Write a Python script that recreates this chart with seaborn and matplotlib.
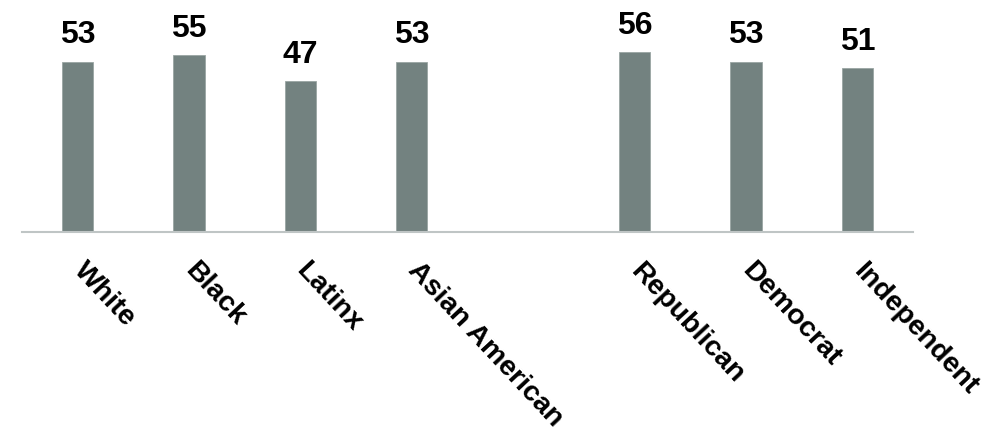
import matplotlib
matplotlib.use("Agg")
import matplotlib.pyplot as plt
import seaborn as sns
import pandas as pd

# Share of respondents by group (race/ethnicity, then party)
groups = ["White", "Black", "Latinx", "Asian American",
          "Republican", "Democrat", "Independent"]
values = [53, 55, 47, 53, 56, 53, 51]

# an empty slot separates the two sets of groups
order = ["White", "Black", "Latinx", "Asian American", " ",
         "Republican", "Democrat", "Independent"]

df = pd.DataFrame({"group": groups, "value": values})

sns.set_theme(style="white")
plt.rcParams["font.family"] = ["Liberation Sans", "DejaVu Sans"]

fig = plt.figure(figsize=(10.04, 4.32), dpi=100)
ax = fig.add_axes([22 / 1004, 1 - 232 / 432, 891 / 1004, 231.5 / 432])

bar_color = "#738280"
sns.barplot(data=df, x="group", y="value", order=order, color=bar_color,
            width=0.28, saturation=1, edgecolor="#9aa5a3", linewidth=0.6,
            ax=ax)

ax.set_xlim(-0.5, 7.5)
ax.set_ylim(0, 72)

for cont in ax.containers:
    ax.bar_label(cont, fmt="%d", padding=8, fontsize=23, fontweight="bold",
                 color="black")

ax.set_xlabel("")
ax.set_ylabel("")
ax.set_yticks([])
for side in ["left", "right", "top"]:
    ax.spines[side].set_visible(False)
ax.spines["bottom"].set_color("#bfc5c5")
ax.spines["bottom"].set_linewidth(1.5)

ax.tick_params(axis="x", length=0, pad=25)
for lbl in ax.get_xticklabels():
    lbl.set_rotation(-47)
    lbl.set_ha("left")
    lbl.set_va("center")
    lbl.set_rotation_mode("anchor")
    lbl.set_fontsize(20.5)
    lbl.set_fontweight("bold")
    lbl.set_color("black")

fig.savefig("out.png", dpi=100, facecolor="white")
